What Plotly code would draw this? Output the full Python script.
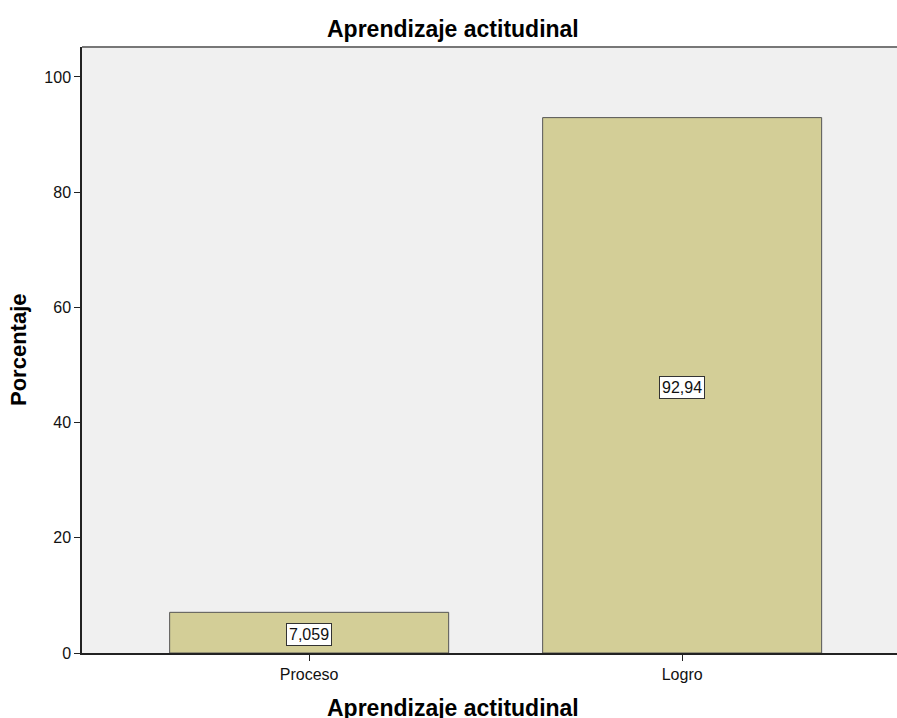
import plotly.graph_objects as go

categories = ["Proceso", "Logro"]
values = [7.059, 92.94]
labels = ["7,059", "92,94"]
y_ticks = [0, 20, 40, 60, 80, 100]

FONT = "Liberation Sans, Arial"

fig = go.Figure()
fig.add_trace(go.Bar(
    x=[0, 1], y=values, width=0.748,
    marker=dict(color="#d3ce97", line=dict(color="#555555", width=1)),
    hoverinfo="skip",
))

for i, (v, t) in enumerate(zip(values, labels)):
    fig.add_annotation(x=i, y=v / 2, text=t, showarrow=False, yshift=-2,
                       font=dict(family=FONT, size=16, color="#111"),
                       bgcolor="white", bordercolor="#333333", borderwidth=1, borderpad=2)

fig.add_shape(type="line", xref="paper", yref="paper", x0=0, x1=1, y0=1, y1=1,
              line=dict(color="#777777", width=2))

cx = (453 - 82) / 815
fig.add_annotation(xref="paper", yref="paper", x=cx, y=1, yanchor="middle", xanchor="center",
                   yshift=18, text="<b>Aprendizaje actitudinal</b>", showarrow=False,
                   font=dict(family=FONT, size=23, color="#000"))
fig.add_annotation(xref="paper", yref="paper", x=cx, y=0, yanchor="middle", xanchor="center",
                   yshift=-55, text="<b>Aprendizaje actitudinal</b>", showarrow=False,
                   font=dict(family=FONT, size=23, color="#000"))
fig.add_annotation(xref="paper", yref="paper", x=0, xanchor="center", yanchor="middle",
                   xshift=-64, y=(653 - 350) / 606,
                   text="<b>Porcentaje</b>", showarrow=False, textangle=-90,
                   font=dict(family=FONT, size=22, color="#000"))

fig.update_layout(
    width=897, height=718,
    margin=dict(l=82, r=0, t=47, b=65),
    paper_bgcolor="white", plot_bgcolor="#f0f0f0",
    showlegend=False,
    font=dict(family=FONT, size=16, color="#111"),
    xaxis=dict(range=[-0.609, 1.576], tickmode="array", tickvals=[0, 1], ticktext=categories,
               showgrid=False, zeroline=False, showline=True, linecolor="#222", linewidth=1.5,
               ticks="outside", ticklen=6, tickcolor="#222", fixedrange=True,
               tickfont=dict(size=16)),
    yaxis=dict(range=[0, 105.2], tickmode="array", tickvals=y_ticks,
               showgrid=False, zeroline=False, showline=True, linecolor="#222", linewidth=1.5,
               ticks="outside", ticklen=6, tickcolor="#222", fixedrange=True,
               tickfont=dict(size=16)),
)

fig.write_html("out.html", config={"displayModeBar": False},
               post_script="document.body.style.margin='0';document.body.style.overflow='hidden';")
